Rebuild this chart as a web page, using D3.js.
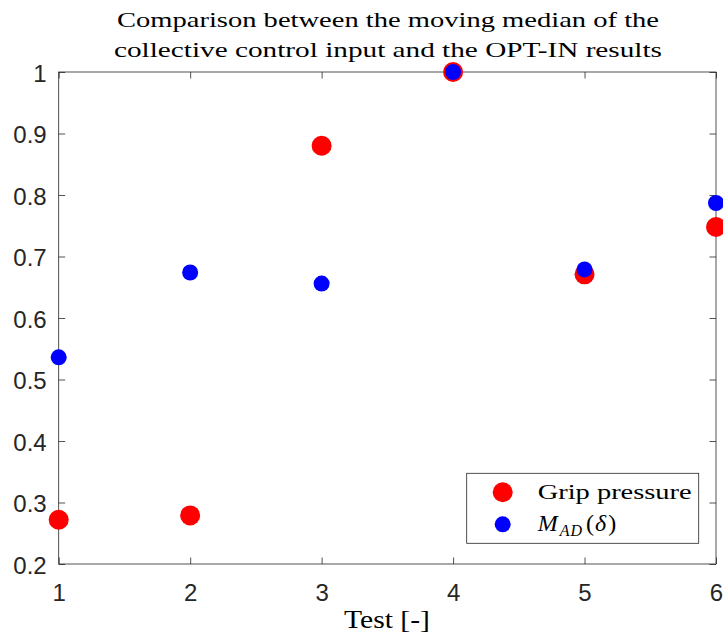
<!DOCTYPE html>
<html><head><meta charset="utf-8">
<script src="https://cdn.jsdelivr.net/npm/d3@7"></script>
<style>body{margin:0;background:#fff}svg{display:block}</style>
</head><body>
<script>
const tests = [1, 2, 3, 4, 5, 6];
const gripPressure = [0.272, 0.279, 0.880, 1.000, 0.671, 0.748];
const madDelta = [0.536, 0.674, 0.656, 1.000, 0.679, 0.787];
const xTicks = [1, 2, 3, 4, 5, 6];
const yTicks = [0.2, 0.3, 0.4, 0.5, 0.6, 0.7, 0.8, 0.9, 1];
const titleLines = ["Comparison between the moving median of the", "collective control input and the OPT-IN results"];

const W = 723, H = 641;
const m = {left: 58.7, right: 716, top: 72, bottom: 564};
const svg = d3.select("body").append("svg").attr("width", W).attr("height", H);
const x = d3.scaleLinear().domain([1, 6]).range([m.left, m.right]);
const y = d3.scaleLinear().domain([0.2, 1]).range([m.bottom, m.top]);
const axisColor = "#262626";
const sans = "'Liberation Sans', Arial, Helvetica, sans-serif";
const serif = "'Liberation Serif', 'Times New Roman', serif";

// box
svg.append("rect").attr("x", m.left).attr("y", m.top)
  .attr("width", m.right - m.left).attr("height", m.bottom - m.top)
  .attr("fill", "none").attr("stroke", axisColor).attr("stroke-width", 0.8);

// axes with inward ticks
const tl = 6.5;
const axB = svg.append("g").attr("transform", `translate(0,${m.bottom})`)
  .call(d3.axisBottom(x).tickValues(xTicks).tickSize(-tl).tickFormat(d3.format("d")));
const axT = svg.append("g").attr("transform", `translate(0,${m.top})`)
  .call(d3.axisTop(x).tickValues(xTicks).tickSize(-tl).tickFormat(""));
const axL = svg.append("g").attr("transform", `translate(${m.left},0)`)
  .call(d3.axisLeft(y).tickValues(yTicks).tickSize(-tl).tickFormat(d => d === 1 ? "1" : d3.format(".1f")(d)));
const axR = svg.append("g").attr("transform", `translate(${m.right},0)`)
  .call(d3.axisRight(y).tickValues(yTicks).tickSize(-tl).tickFormat(""));
[axB, axT, axL, axR].forEach(a => {
  a.attr("font-size", null).attr("font-family", null);
  a.select(".domain").remove();
  a.selectAll(".tick line").attr("stroke", axisColor).attr("stroke-width", 0.8);
  a.selectAll("text").attr("fill", axisColor).style("font-family", sans).style("font-size", "24px");
});
axB.selectAll(".tick text").attr("dy", null).attr("y", 37);
axL.selectAll(".tick text").attr("dy", null).attr("y", 9).attr("x", -12);

// title
svg.append("g").selectAll("text").data(titleLines).join("text")
  .attr("x", 388).attr("y", (d, i) => 27 + i * 30)
  .attr("text-anchor", "middle")
  .attr("textLength", (d, i) => i === 0 ? 542 : 548).attr("lengthAdjust", "spacingAndGlyphs")
  .style("font-family", serif).style("font-size", "22px").attr("fill", "#000")
  .text(d => d);

// x label
svg.append("text").attr("x", 387).attr("y", 628).attr("text-anchor", "middle")
  .attr("textLength", 86).attr("lengthAdjust", "spacingAndGlyphs")
  .style("font-family", serif).style("font-size", "26px").text("Test [-]");

// points
svg.append("g").selectAll("circle").data(tests).join("circle")
  .attr("cx", d => x(d)).attr("cy", (d, i) => y(gripPressure[i]))
  .attr("r", 10).attr("fill", "#ff0000");
svg.append("g").selectAll("circle").data(tests).join("circle")
  .attr("cx", d => x(d)).attr("cy", (d, i) => y(madDelta[i]))
  .attr("r", 8).attr("fill", "#0000ff");

// legend
const lg = svg.append("g");
lg.append("rect").attr("x", 466.7).attr("y", 473.3).attr("width", 232).attr("height", 70)
  .attr("fill", "#fff").attr("stroke", axisColor).attr("stroke-width", 0.8);
lg.append("circle").attr("cx", 502.7).attr("cy", 492.3).attr("r", 10).attr("fill", "#ff0000");
lg.append("circle").attr("cx", 502.7).attr("cy", 524.3).attr("r", 8).attr("fill", "#0000ff");
lg.append("text").attr("x", 537.7).attr("y", 499)
  .attr("textLength", 154).attr("lengthAdjust", "spacingAndGlyphs")
  .style("font-family", serif).style("font-size", "22px").text("Grip pressure");
const t2 = lg.append("text").attr("x", 537.7).attr("y", 531)
  .style("font-family", serif).style("font-size", "24px");
t2.append("tspan").style("font-style", "italic").text("M");
t2.append("tspan").style("font-style", "italic").style("font-size", "16px").attr("dy", 5).attr("dx", 2).attr("letter-spacing", 1).text("AD");
t2.append("tspan").attr("dy", -5).attr("dx", 3).text("(");
t2.append("tspan").style("font-style", "italic").attr("dx", 1).text("δ");
t2.append("tspan").attr("dx", 2).text(")");
</script>
</body></html>
